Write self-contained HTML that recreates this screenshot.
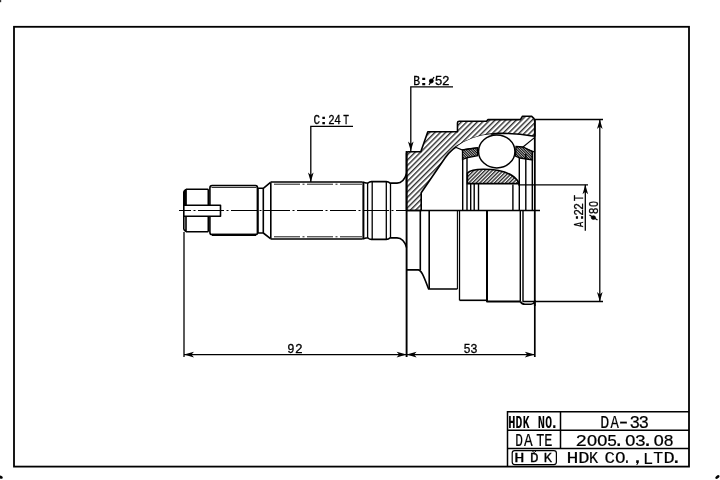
<!DOCTYPE html>
<html><head><meta charset="utf-8"><style>
html,body{margin:0;padding:0;background:#fff;width:720px;height:480px;overflow:hidden}
svg{display:block;will-change:transform}
text{font-family:"Liberation Mono",monospace;fill:#000}
</style></head><body>
<svg width="720" height="480" viewBox="0 0 720 480">
<defs>
<pattern id="h1" patternUnits="userSpaceOnUse" x="-0.72" width="3.75" height="10" patternTransform="rotate(45)">
<rect width="3.75" height="10" fill="#fff"/><line x1="0.75" y1="0" x2="0.75" y2="10" stroke="#000" stroke-width="1.15"/></pattern>
<pattern id="h2" patternUnits="userSpaceOnUse" width="2.6" height="10" patternTransform="rotate(45)">
<rect width="2.6" height="10" fill="#fff"/><line x1="0.7" y1="0" x2="0.7" y2="10" stroke="#000" stroke-width="1.15"/></pattern>
<pattern id="h3" patternUnits="userSpaceOnUse" width="1.8" height="10" patternTransform="rotate(-45)">
<rect width="1.8" height="10" fill="#fff"/><line x1="0.6" y1="0" x2="0.6" y2="10" stroke="#000" stroke-width="1.15"/></pattern>

</defs>
<rect width="720" height="480" fill="#fff"/>
<!-- corner specks -->
<ellipse cx="717.4" cy="477" rx="2.4" ry="1.4" transform="rotate(-40 717.4 477)" fill="#000"/>
<ellipse cx="0.6" cy="477.2" rx="2.2" ry="1.5" transform="rotate(20 0.6 477.2)" fill="#000"/>
<rect x="0" y="0" width="1.2" height="2.2" fill="#333"/>
<!-- border -->
<rect x="14" y="26.8" width="675" height="439.8" fill="none" stroke="#000" stroke-width="1.8"/>

<!-- title block -->
<g stroke="#000" stroke-width="1.5" fill="none">
<path d="M507.5,466.5 V411.8 H689 M507.5,430.2 H689 M507.5,448.4 H689 M560.5,411.8 V448.4"/>
<rect x="512.2" y="450.6" width="44.2" height="14" rx="2.5" stroke-width="1.2"/>
<path d="M532,450.6 L534.2,452.6 L536.4,450.6" stroke-width="1"/>
</g>


<!-- centerline shaft -->
<line x1="179" y1="210.5" x2="406" y2="210.5" stroke="#000" stroke-width="1.1" stroke-dasharray="26 2.5 2 2.5" stroke-dashoffset="14"/>

<!-- shaft outline -->
<g stroke="#000" stroke-width="1.6" fill="none" stroke-linejoin="round">
<!-- threaded end -->
<path d="M186,189.2 H208.3 M186,231.7 H208.3 M183.8,191.6 L186,189.2 M183.8,229.4 L186,231.7 M183.8,191.6 V229.4 M186,189.2 V205.2 M186,216.3 V231.7 M208.3,189.2 V205.2 M208.3,216.3 V231.7"/>
<path d="M184,191.5 L185.8,190 V205 H184 Z" fill="#000" stroke-width="0.8"/>
<!-- keyway -->
<path d="M183.8,205.2 H220.5 V216.3 H183.8"/>
<!-- second section -->
<path d="M209.9,205.2 V188 Q209.9,185.5 212.2,185.5 H255.5 Q257.5,185.5 257.5,188 M209.9,216.3 V232.2 Q209.9,234.6 212.2,234.6 H255.5 Q257.5,234.6 257.5,233"/>
<path d="M212,234.8 H256" stroke-width="2.2"/>
<path d="M211.5,187.4 H256.5" stroke-width="0.9"/>
<path d="M257.7,188 V233" stroke-width="2.2"/>
<!-- groove -->
<path d="M257.5,188.3 H263.3 V233 H257.5 M263.3,188.3 L270.5,182.3 M263.3,233 L270.5,238.7 M270.8,182.3 V238.7"/>
<!-- spline shaft -->
<path d="M270.5,182 H362.6 M270.5,239 H362.6"/>
<!-- collar -->
<path d="M362.6,182 L366,183 H368 Q369.5,181.6 371.4,181.6 H386.3 Q388.5,181.6 390.1,183.1 H397 C401.5,183 404.5,180.5 406.6,173.5"/>
<path d="M362.6,239 L366,238 H368 Q369.5,239.4 371.4,239.4 H386.3 Q388.5,239.4 390.1,237.9 H397 C401.5,238 404.5,240.5 406.6,247.5"/>
<path d="M363.4,182 V239" stroke-width="2"/>
<path d="M367.6,183 V238 M372.2,181.6 V239.4 M386.3,181.6 V239.4 M390.5,183 V238" stroke-width="1.3"/>
</g>
<g stroke="#000" stroke-width="0.9" fill="none" stroke-dasharray="26 2.5 2 2.5" stroke-dashoffset="31">
<path d="M272,184.2 H362 M272,236.8 H362"/>
</g>

<!-- bell upper section hatched -->
<path d="M406.5,210.5 V153.5 Q406.5,151.8 408.5,151.8 H420.8 L427.8,131.8 H457.5 V122.8 Q457.5,121.2 459.2,121.2 H486.5 L488,119.6 H520.4 L522.5,116.3 H531.7 L533.8,118.3 Q534.8,119.5 534.8,121.5 V136 L532.5,136 Q515,133 498,133.4 Q480,134.5 464,142.3 Q452,148 445,158 L428.4,182.2 L421.2,192.7 V210.5 Z" fill="url(#h1)" stroke="#000" stroke-width="1.6" stroke-linejoin="round"/>

<!-- white lens + cage -->
<path d="M456,147 Q470,146 482,139 L492,134 Q470,136 456,147 Z" fill="#fff" stroke="none"/>
<path d="M455,147 L462.5,150 Q470,148 477.6,147.8 M518,147 Q526,149 534.5,152" stroke="#000" stroke-width="1.3" fill="none"/>
<path d="M462.5,150 L477.6,147.8 V155.6 L467.7,157.7 L462.5,159.3 Z" fill="url(#h3)" stroke="#000" stroke-width="1.3"/>
<path d="M516,146.5 L523,147 L532.5,151.7 V160 L520,158 L515.5,156 Z" fill="url(#h3)" stroke="#000" stroke-width="1.3"/>
<path d="M534.5,137.6 L523,147" stroke="#000" stroke-width="1.2"/>

<!-- inner race -->
<path d="M467.4,183.6 V173 C470,170.5 476,169.4 483,169.3 C495,169.2 505,171 512,175.5 C515,177.5 517.5,180 518.7,182.8 V183.6 Z" fill="url(#h2)" stroke="#000" stroke-width="1.6"/>
<!-- ball -->
<ellipse cx="496.75" cy="151.4" rx="18.2" ry="16.5" fill="#fff" stroke="#000" stroke-width="1.5"/>

<!-- vertical lines in section -->
<g stroke="#000" stroke-width="1.4">
<path d="M462.7,159 V210.5 M467,158 V210.5 M470.7,183.6 V210.5 M474.2,183.6 V210.5 M478.5,183.6 V210.5 M512.9,184.5 V210.5 M519.3,158 V210.5 M525.8,154 V210.5 M532.3,152 V210.5"/>
<path d="M534.8,119 V306" stroke-width="1.8"/>
</g>
<!-- section line -->
<line x1="406" y1="210.4" x2="540" y2="210.4" stroke="#000" stroke-width="1.5"/>

<!-- lower half external -->
<g stroke="#000" stroke-width="1.6" fill="none" stroke-linejoin="round">
<path d="M406.3,269.9 H418.3 C421,270 423,274 428.6,289 H457.4"/>
<path d="M420.3,210.5 V269.9 M429.2,210.5 V289"/>
<path d="M459.5,210.5 V300.3" stroke-width="1.3"/>
<path d="M457.4,210.5 V289" stroke-width="1.1"/>
<path d="M459.5,300.3 H487" />
<path d="M487,210.5 V301.5 H520.3" stroke-width="2"/>
<path d="M520.3,210.5 V301.5 M523,210.5 V301.5 H534.8" stroke-width="1.4"/>
<path d="M520.3,301.5 Q522,304.3 525,304.3 H531 Q533.5,304.3 534.5,302"/>
</g>

<!-- dimension / extension lines -->
<g stroke="#000" stroke-width="1.3" fill="none">
<line x1="406.6" y1="151" x2="406.6" y2="357" stroke-width="1.9"/>
<line x1="184" y1="232" x2="184" y2="357"/>
<line x1="534.8" y1="300" x2="534.8" y2="357" stroke-width="1.7"/>
<!-- 92 -->
<line x1="184" y1="354.6" x2="406.6" y2="354.6"/>
<!-- phi80 extension -->
<line x1="534.8" y1="119.5" x2="603" y2="119.5"/>
<line x1="534.8" y1="301.5" x2="603" y2="301.5"/>
<line x1="599.8" y1="119.5" x2="599.8" y2="301.5"/>
<!-- A:22T -->
<line x1="518" y1="184.8" x2="588" y2="184.8"/>
<line x1="585.3" y1="184.8" x2="585.3" y2="230.7"/>
<!-- B leader -->
<path d="M453,86.9 H410.8 V151"/>
<!-- C leader -->
<path d="M353,126.4 H310.8 V182"/>
</g>
<!-- arrowheads -->
<g fill="#000">
<!-- 92 left -->
<path d="M184,354.6 L194,351.8 L191.5,354.6 L194,357.4 Z"/>
<!-- 92 right -->
<path d="M406.6,354.6 L396.6,351.8 L399.1,354.6 L396.6,357.4 Z"/>
<!-- 53 left -->
<path d="M406.6,354.6 L416.6,351.8 L414.1,354.6 L416.6,357.4 Z"/>
<!-- 53 right -->
<path d="M534.8,354.6 L524.8,351.8 L527.3,354.6 L524.8,357.4 Z"/>
<!-- phi80 top -->
<path d="M599.8,119.5 L597,129 L599.8,126.5 L602.6,129 Z"/>
<!-- phi80 bottom -->
<path d="M599.8,301.5 L597,292 L599.8,294.5 L602.6,292 Z"/>
<!-- A:22T up -->
<path d="M585.3,184.8 L582.5,194.3 L585.3,191.8 L588.1,194.3 Z"/>
<!-- B down -->
<path d="M410.8,151 L408,141.5 L410.8,144 L413.6,141.5 Z"/>
<!-- C down -->
<path d="M310.8,182 L308,172.5 L310.8,175 L313.6,172.5 Z"/>
</g>
<line x1="406.6" y1="354.6" x2="534.8" y2="354.6" stroke="#000" stroke-width="1.3"/>

<!-- labels -->
<g style="font-family:'Liberation Mono',monospace" fill="#000">
<text x="756.48" y="427.90" font-size="17.91" transform="scale(0.672,1)" font-weight="bold">H</text>
<text x="816.89" y="427.90" font-size="17.91" transform="scale(0.631,1)" font-weight="bold">D</text>
<text x="832.58" y="427.90" font-size="17.91" transform="scale(0.628,1)" font-weight="bold">K</text>
<text x="797.96" y="427.90" font-size="17.91" transform="scale(0.674,1)" font-weight="bold">N</text>
<text x="862.63" y="427.90" font-size="17.91" transform="scale(0.632,1)" font-weight="bold">O</text>
<text x="617.48" y="427.90" font-size="17.91" transform="scale(0.890,1)" font-weight="bold">.</text>
<text x="741.25" y="446.00" font-size="18.37" transform="scale(0.695,1)" stroke="#000" stroke-width="0.2">D</text>
<text x="667.37" y="446.00" font-size="18.37" transform="scale(0.785,1)" stroke="#000" stroke-width="0.2">A</text>
<text x="728.60" y="446.00" font-size="18.37" transform="scale(0.736,1)" stroke="#000" stroke-width="0.2">T</text>
<text x="732.49" y="446.00" font-size="18.37" transform="scale(0.743,1)" stroke="#000" stroke-width="0.2">E</text>
<text x="741.84" y="428.00" font-size="18.52" transform="scale(0.809,1)" stroke="#000" stroke-width="0.2">D</text>
<text x="811.85" y="428.00" font-size="18.52" transform="scale(0.752,1)" stroke="#000" stroke-width="0.2">A</text>
<text x="473.04" y="428.00" font-size="18.52" transform="scale(1.303,1)" stroke="#000" stroke-width="0.2">-</text>
<text x="661.82" y="428.00" font-size="18.52" transform="scale(0.951,1)" stroke="#000" stroke-width="0.2">3</text>
<text x="675.54" y="428.00" font-size="18.52" transform="scale(0.945,1)" stroke="#000" stroke-width="0.2">3</text>
<text x="511.67" y="445.70" font-size="17.04" transform="scale(1.125,1)" stroke="#000" stroke-width="0.2">2</text>
<text x="567.92" y="445.70" font-size="17.04" transform="scale(1.033,1)" stroke="#000" stroke-width="0.2">O</text>
<text x="577.89" y="445.70" font-size="17.04" transform="scale(1.033,1)" stroke="#000" stroke-width="0.2">O</text>
<text x="613.10" y="445.70" font-size="17.04" transform="scale(0.990,1)" stroke="#000" stroke-width="0.2">5</text>
<text x="521.05" y="445.70" font-size="17.04" transform="scale(1.176,1)" stroke="#000" stroke-width="0.2">.</text>
<text x="605.00" y="445.70" font-size="17.04" transform="scale(1.033,1)" stroke="#000" stroke-width="0.2">O</text>
<text x="582.98" y="445.70" font-size="17.04" transform="scale(1.089,1)" stroke="#000" stroke-width="0.2">3</text>
<text x="522.63" y="445.70" font-size="17.04" transform="scale(1.227,1)" stroke="#000" stroke-width="0.2">.</text>
<text x="640.18" y="445.70" font-size="17.04" transform="scale(1.021,1)" stroke="#000" stroke-width="0.2">O</text>
<text x="663.41" y="445.70" font-size="17.04" transform="scale(1.000,1)" stroke="#000" stroke-width="0.2">8</text>
<text x="478.95" y="463.50" font-size="16.85" transform="scale(1.183,1)" stroke="#000" stroke-width="0.2">H</text>
<text x="520.38" y="463.50" font-size="16.85" transform="scale(1.111,1)" stroke="#000" stroke-width="0.2">D</text>
<text x="652.91" y="463.50" font-size="16.85" transform="scale(0.902,1)" stroke="#000" stroke-width="0.2">K</text>
<text x="581.85" y="463.50" font-size="16.85" transform="scale(1.039,1)" stroke="#000" stroke-width="0.2">C</text>
<text x="589.06" y="463.50" font-size="16.85" transform="scale(1.044,1)" stroke="#000" stroke-width="0.2">O</text>
<text x="753.07" y="463.50" font-size="16.85" transform="scale(0.827,1)" stroke="#000" stroke-width="0.2">.</text>
<text x="643.04" y="463.50" font-size="16.85" transform="scale(1.000,1)" stroke="#000" stroke-width="0.2">L</text>
<text x="664.62" y="463.50" font-size="16.85" transform="scale(0.983,1)" stroke="#000" stroke-width="0.2">T</text>
<text x="597.28" y="463.50" font-size="16.85" transform="scale(1.111,1)" stroke="#000" stroke-width="0.2">D</text>
<text x="539.92" y="463.50" font-size="16.85" transform="scale(1.241,1)" stroke="#000" stroke-width="0.2">.</text>
<text x="376.71" y="461.60" font-size="12.45" transform="scale(1.365,1)" stroke="#000" stroke-width="0.3">H</text>
<text x="462.85" y="461.60" font-size="12.45" transform="scale(1.145,1)" stroke="#000" stroke-width="0.3">D</text>
<text x="495.76" y="461.60" font-size="12.45" transform="scale(1.097,1)" stroke="#000" stroke-width="0.3">K</text>
<text x="441.07" y="85.00" font-size="12.15" transform="scale(0.937,1)" stroke="#000" stroke-width="0.3">B</text>
<text x="242.39" y="85.00" font-size="12.15" transform="scale(1.722,1)" stroke="#000" stroke-width="0.3">:</text>
<text x="410.54" y="85.00" font-size="12.15" transform="scale(1.059,1)" stroke="#000" stroke-width="0.3">5</text>
<text x="424.92" y="85.00" font-size="12.15" transform="scale(1.040,1)" stroke="#000" stroke-width="0.3">2</text>
<text x="343.48" y="124.20" font-size="11.99" transform="scale(0.913,1)" stroke="#000" stroke-width="0.3">C</text>
<text x="208.64" y="124.20" font-size="11.99" transform="scale(1.526,1)" stroke="#000" stroke-width="0.3">:</text>
<text x="368.77" y="124.20" font-size="11.99" transform="scale(0.890,1)" stroke="#000" stroke-width="0.3">2</text>
<text x="363.72" y="124.20" font-size="11.99" transform="scale(0.919,1)" stroke="#000" stroke-width="0.3">4</text>
<text x="432.83" y="124.20" font-size="11.99" transform="scale(0.793,1)" stroke="#000" stroke-width="0.3">T</text>
<text x="297.64" y="353.10" font-size="12.56" transform="scale(0.965,1)" stroke="#000" stroke-width="0.3">9</text>
<text x="288.07" y="353.10" font-size="12.56" transform="scale(1.024,1)" stroke="#000" stroke-width="0.3">2</text>
<text x="522.05" y="352.70" font-size="13.30" transform="scale(0.888,1)" stroke="#000" stroke-width="0.3">5</text>
<text x="511.64" y="352.70" font-size="13.30" transform="scale(0.919,1)" stroke="#000" stroke-width="0.3">3</text>
<g transform="translate(583.10,0) rotate(-90)">
<text x="-356.24" y="0.00" font-size="13.36" transform="scale(0.637,1)" stroke="#000" stroke-width="0.3">A</text>
<text x="-170.71" y="0.00" font-size="13.36" transform="scale(1.305,1)" stroke="#000" stroke-width="0.3">:</text>
<text x="-254.47" y="0.00" font-size="13.36" transform="scale(0.848,1)" stroke="#000" stroke-width="0.3">2</text>
<text x="-252.23" y="0.00" font-size="13.36" transform="scale(0.832,1)" stroke="#000" stroke-width="0.3">2</text>
<text x="-256.63" y="0.00" font-size="13.36" transform="scale(0.784,1)" stroke="#000" stroke-width="0.3">T</text>
</g>
<g transform="translate(597.70,0) rotate(-90)">
<text x="-258.02" y="0.00" font-size="13.60" transform="scale(0.830,1)" stroke="#000" stroke-width="0.3">8</text>
<text x="-281.73" y="0.00" font-size="13.60" transform="scale(0.735,1)" stroke="#000" stroke-width="0.3">O</text>
</g>
</g>
<path d="M636.2,460.2 h2.6 v2.4 l-1.6,2.4 h-0.9 l0.8,-2 h-0.9 z" fill="#000"/>
<g stroke="#000" fill="none" stroke-width="1.3"><circle cx="431.3" cy="81" r="2.0" fill="#000" stroke-width="0.8"/><line x1="429" y1="85" x2="434" y2="77"/></g>
<g stroke="#000" fill="none" stroke-width="1.3"><ellipse cx="593.4" cy="217.6" rx="2.2" ry="1.9" fill="#000" stroke-width="0.6"/><line x1="589.5" y1="215" x2="597.5" y2="220"/></g>
</svg>
</body></html>
